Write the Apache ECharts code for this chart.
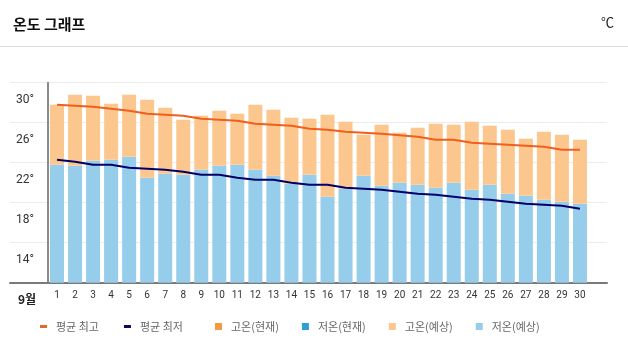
<!DOCTYPE html>
<html>
<head>
<meta charset="utf-8">
<script src="https://cdn.jsdelivr.net/npm/echarts@6/dist/echarts.min.js"></script>
<style>
html,body{margin:0;padding:0;background:#fff;}
#chart{width:628px;height:359px;}
</style>
</head>
<body>
<div id="chart"></div>
<script>
// ---- data ----
const days = ['1','2','3','4','5','6','7','8','9','10','11','12','13','14','15','16','17','18','19','20','21','22','23','24','25','26','27','28','29','30',''];
const highForecast = [29.3,30.3,30.2,29.4,30.3,29.8,29.0,27.8,28.2,28.7,28.4,29.3,28.8,28.0,27.9,28.3,27.6,26.3,27.3,26.5,27.0,27.4,27.3,27.6,27.2,26.8,25.9,26.6,26.3,25.8];
const lowForecast  = [23.3,23.2,23.7,23.8,24.1,22.0,22.4,22.3,22.8,23.2,23.3,22.8,22.2,21.4,22.3,20.1,20.9,22.2,21.2,21.5,21.3,21.0,21.5,20.8,21.3,20.4,20.2,19.8,19.6,19.4];
const highCurrent  = [];
const lowCurrent   = [];
const avgHigh = [29.3,29.2,29.1,28.9,28.7,28.4,28.3,28.2,27.9,27.8,27.7,27.4,27.3,27.2,26.9,26.8,26.6,26.5,26.4,26.25,26.1,25.8,25.8,25.5,25.4,25.3,25.2,25.1,24.8,24.8];
const avgLow  = [23.8,23.6,23.3,23.3,23.0,22.9,22.8,22.6,22.3,22.3,22.0,21.8,21.8,21.5,21.3,21.3,21.0,20.9,20.8,20.6,20.4,20.3,20.1,19.9,19.8,19.6,19.4,19.3,19.2,18.9];
const yTickLabels = ['14°','18°','22°','26°','30°'];
const monthLabel = '9월';
const seriesNames = ['평균 최고','평균 최저','고온(현재)','저온(현재)','고온(예상)','저온(예상)'];

const Y_MIN = 11.5, Y_MAX = 31.5, Y_STEP = 4;
const FONT = '"Noto Sans CJK KR","Noto Sans",sans-serif';
const NUMFONT = '"Liberation Sans Narrow","Roboto","DejaVu Sans",sans-serif';

const chart = echarts.init(document.getElementById('chart'));
const highDiff = highForecast.map((h,i)=> +(h - lowForecast[i]).toFixed(2));

chart.setOption({
  animation:false,
  title:[
    {text:'온도 그래프', left:8, top:12, textStyle:{fontFamily:FONT, fontSize:15, fontWeight:'bold', color:'#111'}},
    {text:'℃', right:9, top:11, textStyle:{fontFamily:FONT, fontSize:13, fontWeight:'normal', color:'#222'}},
    {text:monthLabel, left:13, top:288, textStyle:{fontFamily:FONT, fontSize:12, fontWeight:'bold', color:'#222'}}
  ],
  graphic:[{type:'line', shape:{x1:0,y1:46.5,x2:628,y2:46.5}, style:{stroke:'#dcdcdc', lineWidth:1}, silent:true}],
  legend:[
    {left:40, top:321, padding:0, itemWidth:7, itemHeight:3, itemGap:25, icon:'rect',
     textStyle:{fontFamily:FONT, fontSize:11, color:'#666', padding:[0,0,0,4]},
     data:[seriesNames[0], seriesNames[1]]},
    {left:215, top:321, padding:0, itemWidth:7, itemHeight:7, itemGap:23, icon:'rect',
     textStyle:{fontFamily:FONT, fontSize:11, color:'#666', padding:[0,0,0,4]},
     data:[seriesNames[2], seriesNames[3], seriesNames[4], seriesNames[5]]}
  ],
  grid:[
    {left:10, right:21, top:82.7, bottom:76.3},
    {left:48, right:21, top:82.7, bottom:76.3}
  ],
  xAxis:[
    {gridIndex:0, type:'category', data:[''], axisTick:{show:false}, axisLabel:{show:false},
     axisLine:{show:true, lineStyle:{color:'#7a7a7a', width:2}}},
    {gridIndex:1, type:'category', data:days, axisTick:{show:false}, axisLine:{show:false},
     axisLabel:{interval:0, margin:8, fontSize:10, color:'#333', fontFamily:NUMFONT}}
  ],
  yAxis:[
    {gridIndex:0, type:'value', min:Y_MIN, max:Y_MAX, interval:Y_STEP, axisLabel:{show:false},
     axisLine:{show:false}, axisTick:{show:false}, splitLine:{lineStyle:{color:'#ececec', width:1}}},
    {gridIndex:1, type:'value', min:Y_MIN, max:Y_MAX, interval:Y_STEP, splitLine:{show:false}, axisTick:{show:false},
     axisLine:{show:true, lineStyle:{color:'#8a8a8a', width:2}},
     axisLabel:{margin:14, color:'#333', fontSize:12, fontFamily:NUMFONT,
       formatter:function(v){ const i = Math.round((v - Y_MIN)/Y_STEP) - 1; return (i>=0 && i<yTickLabels.length) ? '{a|'+yTickLabels[i]+'}' : ''; },
       rich:{a:{padding:[34,0,0,0], fontSize:12, color:'#333', fontFamily:NUMFONT}}}}
  ],
  series:[
    {name:seriesNames[5], type:'bar', xAxisIndex:1, yAxisIndex:1, stack:'f', barWidth:14, barGap:'-100%', data:lowForecast, itemStyle:{color:'#95cdea'}},
    {name:seriesNames[4], type:'bar', xAxisIndex:1, yAxisIndex:1, stack:'f', barWidth:14, barGap:'-100%', data:highDiff, itemStyle:{color:'#fbc78f'}},
    {name:seriesNames[3], type:'bar', xAxisIndex:1, yAxisIndex:1, stack:'c', barWidth:14, barGap:'-100%', data:lowCurrent, itemStyle:{color:'#2f9fd8'}},
    {name:seriesNames[2], type:'bar', xAxisIndex:1, yAxisIndex:1, stack:'c', barWidth:14, barGap:'-100%', data:highCurrent, itemStyle:{color:'#f39a42'}},
    {name:seriesNames[0], type:'line', xAxisIndex:1, yAxisIndex:1, data:avgHigh, showSymbol:false, symbol:'none', z:5,
     lineStyle:{color:'#f05f1e', width:2}, itemStyle:{color:'#e06a2b'}},
    {name:seriesNames[1], type:'line', xAxisIndex:1, yAxisIndex:1, data:avgLow, showSymbol:false, symbol:'none', z:5,
     lineStyle:{color:'#00006a', width:2}, itemStyle:{color:'#0a0a60'}}
  ]
});
</script>
</body>
</html>
